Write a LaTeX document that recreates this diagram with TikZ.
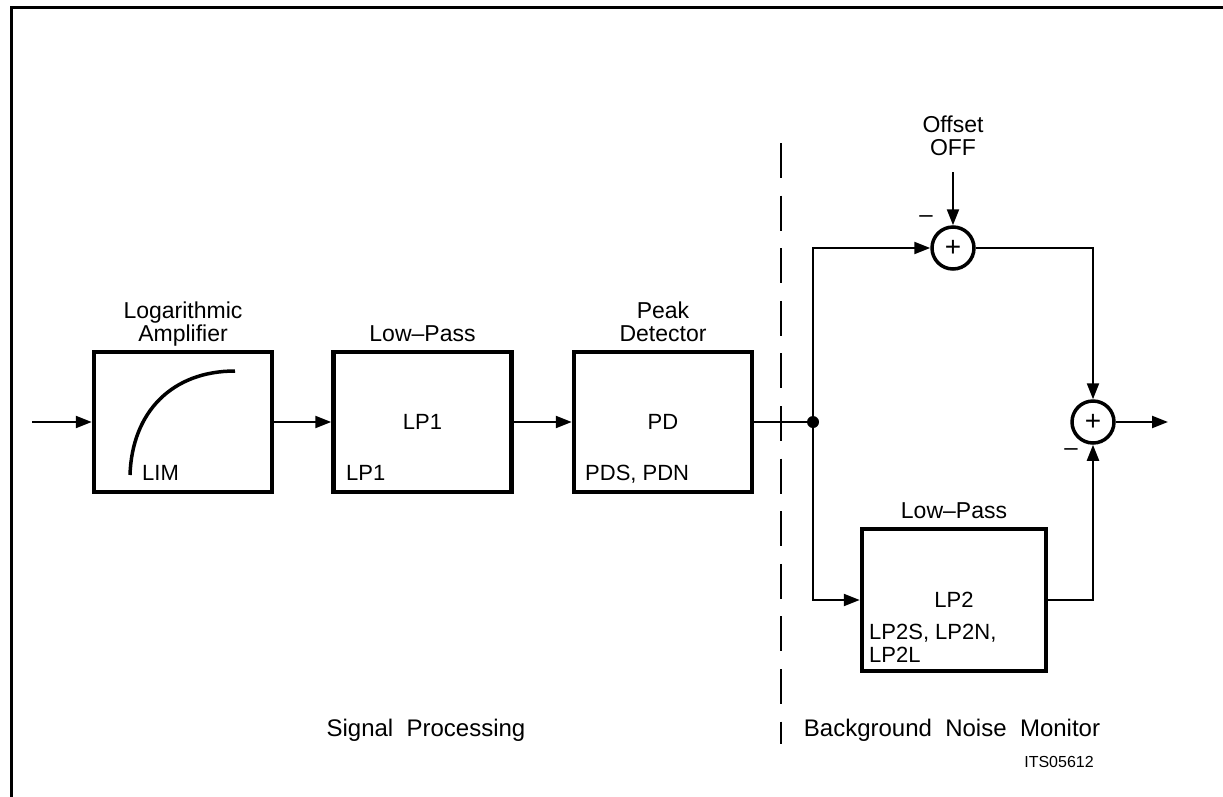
\documentclass[tikz,border=0pt]{standalone}
\usepackage{fontspec}
\setmainfont{Liberation Sans}
\usepackage{tikz}
\usetikzlibrary{positioning,arrows.meta}
\tikzset{
  bloque/.style={rectangle, draw, line width=4.5pt, minimum width=178pt,
    minimum height=140pt, inner sep=0pt, font=\fontsize{22}{23}\selectfont},
  suma/.style={circle, draw, line width=3.5pt, minimum size=42pt, inner sep=0pt,
    font=\fontsize{28}{28}\selectfont},
  flecha/.style={-{Triangle[length=16pt,width=12pt]}, line width=2.2pt},
  linea/.style={line width=2.2pt},
  titulo/.style={align=center, inner sep=0pt, text depth=5pt,
    font=\fontsize{23}{23}\selectfont},
  etq/.style={align=left, inner sep=0pt, font=\fontsize{22}{23}\selectfont},
  zona/.style={inner sep=0pt, font=\fontsize{24}{24}\selectfont},
}

\begin{document}
\begin{tikzpicture}[x=1pt, y=-1pt]
  \useasboundingbox (0,0) rectangle (1223,796);
  % frame
  \draw[line width=3pt] (11,830) -- (11,7) -- (1240,7);

  % signal processing chain
  \node[bloque] (logamp) at (183,422) {};
  \node[bloque, right=57pt of logamp] (lp1) {LP1};
  \node[bloque, right=58pt of lp1] (pd) {PD};
  \node[titulo, above=3pt of logamp] (tlog) {Logarithmic\\Amplifier};
  \node[titulo, above=3pt of lp1] (tlp1) {Low--Pass};
  \node[titulo, above=3pt of pd] (tpd) {Peak\\Detector};
  \draw[line width=3.5pt] (130,475) .. controls (132,412) and (172,371) .. (235,371);
  \node[etq, anchor=west] (lim) at (142,473) {LIM};
  \node[etq, anchor=west] (lp1n) at (346,473) {LP1};
  \node[etq, anchor=west] (pdn) at (585,474) {PDS, PDN};

  \coordinate (entrada) at (32,422);
  \draw[flecha] (entrada) -- (logamp);
  \draw[flecha] (logamp) -- (lp1);
  \draw[flecha] (lp1) -- (pd);

  % separator
  \draw[line width=2.5pt, dash pattern=on 35pt off 17.6pt] (781,143) -- (781,744);

  % background noise monitor
  \node[circle, fill, inner sep=0pt, minimum size=12pt] (nodo) at (813,422) {};
  \node[suma] (s1) at (953,248) {+};
  \node[suma] (s2) at (1093,422) {+};
  \node[bloque, minimum width=184pt, minimum height=142pt] (lp2) at (954,600) {LP2};
  \node[titulo, above=3pt of lp2] (tlp2) {Low--Pass};
  \node[etq, anchor=north west] (lp2n) at (869,624) {LP2S, LP2N,\\LP2L};
  \node[titulo, text depth=0pt] (offs) at (953,136) {Offset\\OFF};
  \node[zona] (m1) at (926,219) {\textendash};
  \node[zona] (m2) at (1071,452) {\textendash};
  \coordinate (offin) at (953,172);
  \coordinate (salida) at (1168,422);

  \draw[linea] (pd) -- (nodo);
  \draw[flecha] (nodo) |- (s1);
  \draw[flecha] (nodo) |- (lp2);
  \draw[flecha] (offin) -- (s1);
  \draw[flecha] (s1) -| (s2);
  \draw[flecha] (lp2) -| (s2);
  \draw[flecha] (s2) -- (salida);

  % zone labels
  \node[zona] (zsig) at (426,730) {Signal\ \ Processing};
  \node[zona] (zbnm) at (952,730) {Background\ \ Noise\ \ Monitor};
  \node[zona, font=\fontsize{16}{16}\selectfont] (codigo) at (1059,762) {ITS05612};
\end{tikzpicture}
\end{document}
